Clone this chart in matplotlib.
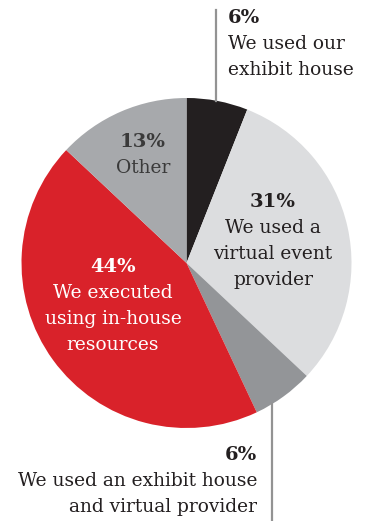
import matplotlib.pyplot as plt

# Shares, clockwise from 12 o'clock
labels = ["We used our\nexhibit house",
          "We used a\nvirtual event\nprovider",
          "We used an exhibit house\nand virtual provider",
          "We executed\nusing in-house\nresources",
          "Other"]
shares = [6, 31, 6, 44, 13]
colors = ["#231f20", "#dcdddf", "#939598", "#d9222a", "#a7a9ac"]

W, H = 367, 521
fig = plt.figure(figsize=(W / 100, H / 100), dpi=100)
ax = fig.add_axes([0, 0, 1, 1])

cx, cy, r = 186.5, H - 263, 165
ax.pie(shares, colors=colors, startangle=90, counterclock=False,
       center=(cx, cy), radius=r, wedgeprops=dict(linewidth=0))

ax.set_xlim(0, W)
ax.set_ylim(0, H)
ax.set_aspect("equal")
ax.axis("off")

serif = "DejaVu Serif"
dark = "#231f20"
line_c = "#939393"


def label(x, y, pct, text, ha="center", color=dark, gap=26):
    # percentage in bold, description lines below it
    ax.text(x, H - y, f"{pct}%", ha=ha, va="center", color=color,
            family=serif, fontweight="heavy", fontsize=14)
    for i, line in enumerate(text.split("\n")):
        ax.text(x, H - (y + gap * (i + 1)), line, ha=ha, va="center",
                color=color, family=serif, fontsize=13.4)


# leader lines for the two thin slices
ax.plot([216, 216], [H - 10, H - 101], color=line_c, lw=1.6)
ax.plot([272, 272], [H - 404, 0], color=line_c, lw=1.6)

label(228, 18, shares[0], labels[0], ha="left")
label(273, 202, shares[1], labels[1])
label(257, 455, shares[2], labels[2], ha="right")
label(113, 267, shares[3], labels[3], color="white")
label(143, 142, shares[4], labels[4], color="#3a3a3a")

fig.savefig("out.png", dpi=100)
